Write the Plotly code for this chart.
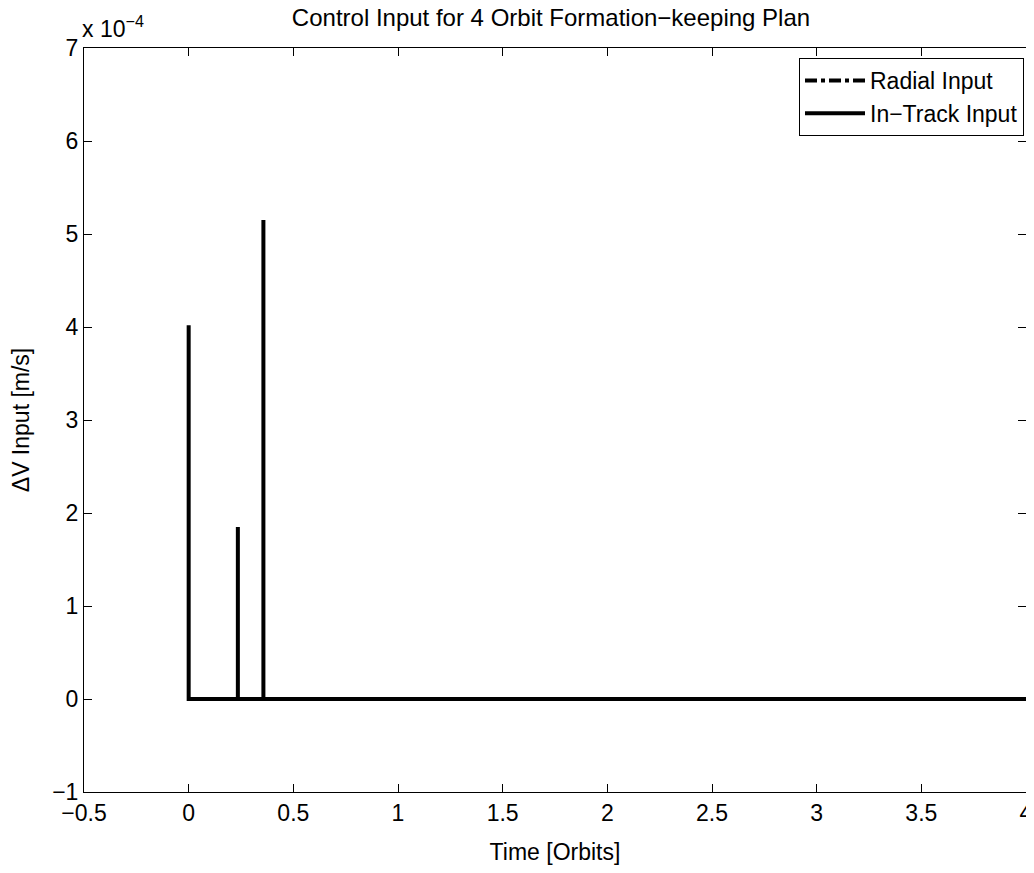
import plotly.graph_objects as go

# impulsive burns (time in orbits, delta-V in m/s)
burn_times = [0.0, 0.235, 0.357]
burn_dv = [4.02e-4, 1.85e-4, 5.15e-4]
t_end = 4.0

radial_t = [0.0, t_end]
radial_dv = [0.0, 0.0]

ytick_vals = [-1e-4, 0, 1e-4, 2e-4, 3e-4, 4e-4, 5e-4, 6e-4, 7e-4]
ytick_text = ['\u22121', '0', '1', '2', '3', '4', '5', '6', '7']
xtick_vals = [-0.5, 0, 0.5, 1, 1.5, 2, 2.5, 3, 3.5, 4]
xtick_text = ['\u22120.5', '0', '0.5', '1', '1.5', '2', '2.5', '3', '3.5', '4']

# build the in-track spike trace
track_t = []
track_dv = []
for t, dv in zip(burn_times, burn_dv):
    track_t += [t, t, t]
    track_dv += [0.0, dv, 0.0]
track_t = track_t[1:] + [t_end]
track_dv = track_dv[1:] + [0.0]

fig = go.Figure()
fig.add_trace(go.Scatter(x=radial_t, y=radial_dv, mode='lines', name='Radial Input',
                         line=dict(color='black', width=4, dash='dashdot')))
fig.add_trace(go.Scatter(x=track_t, y=track_dv, mode='lines', name='In\u2212Track Input',
                         line=dict(color='black', width=4)))

# page body has an 8px margin, so the figure is offset by 8px in the window
W, H = 1026, 857
font = 'Liberation Sans, Arial, Helvetica, sans-serif'
fig.update_layout(
    width=W, height=H,
    paper_bgcolor='white', plot_bgcolor='white',
    margin=dict(l=76, r=8, t=40, b=73, autoexpand=False),
    font=dict(family=font, size=23, color='black'),
    title=dict(text='Control Input for 4 Orbit Formation\u2212keeping Plan',
               x=543 / W, xanchor='center', y=1 - 10 / H, yanchor='middle',
               font=dict(size=24)),
    showlegend=True,
    legend=dict(x=1016 / W, xanchor='right', y=1 - 50 / H, yanchor='top',
                xref='container', yref='container', itemwidth=60,
                bordercolor='black', borderwidth=1, bgcolor='white',
                font=dict(size=23), tracegroupgap=0),
)
fig.update_xaxes(range=[-0.5, 4], tickvals=xtick_vals, ticktext=xtick_text,
                 ticks='inside', ticklen=8, tickcolor='black', showgrid=False,
                 zeroline=False, showline=True, linecolor='black', linewidth=1,
                 mirror='allticks', tickfont=dict(size=23), automargin=False,
                 ticklabeloverflow='allow',
                 title=dict(text='Time [Orbits]', font=dict(size=23), standoff=21))
fig.update_yaxes(range=[-1e-4, 7e-4], tickvals=ytick_vals, ticktext=ytick_text,
                 ticks='inside', ticklen=8, tickcolor='black', showgrid=False,
                 zeroline=False, showline=True, linecolor='black', linewidth=1,
                 mirror='allticks', tickfont=dict(size=23), automargin=False,
                 title=dict(text='\u0394V Input [m/s]', font=dict(size=23), standoff=21))
fig.add_annotation(x=0, y=1, xref='paper', yref='paper', xanchor='left', yanchor='bottom',
                   text='x 10<sup>\u22124</sup>', showarrow=False, font=dict(size=23),
                   xshift=-4, yshift=4)

fig.write_html("out.html")
